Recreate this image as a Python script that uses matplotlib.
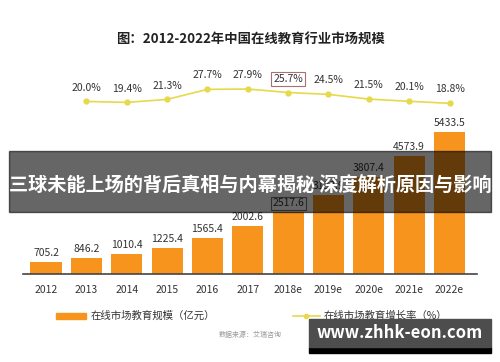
import matplotlib
matplotlib.use("Agg")
import matplotlib.pyplot as plt
from matplotlib.patches import Rectangle

plt.rcParams['font.family'] = ['Noto Sans CJK SC', 'DejaVu Sans']

# ---- data ----
years = ["2012", "2013", "2014", "2015", "2016", "2017",
         "2018e", "2019e", "2020e", "2021e", "2022e"]
market_size = [705.2, 846.2, 1010.4, 1225.4, 1565.4, 2002.6,
               2517.6, 3133.9, 3807.4, 4573.9, 5433.5]
size_labels = ["705.2", "846.2", "1010.4", "1225.4", "1565.4", "2002.6",
               "2517.6", "3133.9", "3807.4", "4573.9", "5433.5"]
growth = [20.0, 19.4, 21.3, 27.7, 27.9, 25.7, 24.5, 21.5, 20.1, 18.8]
growth_x = list(range(1, 11))

title = "图：2012-2022年中国在线教育行业市场规模"
bar_name = "在线市场教育规模（亿元）"
line_name = "在线市场教育增长率（%）"
source = "数据来源：艾瑞咨询"
banner = "三球未能上场的背后真相与内幕揭秘 深度解析原因与影响"
site = "www.zhhk-eon.com"

ORANGE = "#F7941D"
YELLOW = "#E6D94A"
TEXT = "#333333"

W, H = 500, 362
fig = plt.figure(figsize=(W / 100, H / 100), dpi=100)

# axes box in pixels: x 23..477, y 60..274 (from top)
ax = fig.add_axes([23 / W, 1 - 274 / H, 454 / W, 214 / H])
x = list(range(len(years)))
ax.bar(x, market_size, width=0.77, color=ORANGE, zorder=2)
ax.set_xlim(-0.57, 10.68)
ax.set_ylim(269, 8050)
for i, (v, s) in enumerate(zip(market_size, size_labels)):
    kw = {}
    if i == 6:
        kw["bbox"] = dict(boxstyle="square,pad=0.15", fc="none", ec="#777777", lw=0.8)
    ax.annotate(s, (i, v), xytext=(0, 6.5), textcoords="offset points",
                ha="center", va="center", fontsize=7.5, color=TEXT, **kw)
ax.set_xticks(x)
ax.set_xticklabels(years, fontsize=7.5, color=TEXT)
ax.tick_params(axis="x", length=0, pad=8)
ax.set_yticks([])
for side in ["top", "right", "left"]:
    ax.spines[side].set_visible(False)
ax.spines["bottom"].set_color("#444444")
ax.spines["bottom"].set_linewidth(1.2)

# growth rate line on twin axis
ax2 = ax.twinx()
ax2.plot(growth_x, growth, color=YELLOW, lw=1.2, marker="o", ms=3.5,
         markerfacecolor=YELLOW, markeredgecolor=YELLOW, zorder=3)
ax2.set_ylim(-89.9, 46.4)
ax2.set_yticks([])
for side in ax2.spines:
    ax2.spines[side].set_visible(False)
for i, (gx, g) in enumerate(zip(growth_x, growth)):
    kw = {}
    if i == 5:
        kw["bbox"] = dict(boxstyle="square,pad=0.2", fc="none", ec="#A87070", lw=0.8)
    ax2.annotate(f"{g:.1f}%", (gx, g), xytext=(0, 10), textcoords="offset points",
                 ha="center", va="center", fontsize=7.5, color=TEXT, **kw)

# title
fig.text(250 / W, 1 - 40 / H, title, ha="center", va="center",
         fontsize=9.6, fontweight="bold", color="#222222")

# legend drawn by hand
fig.patches.append(Rectangle((56 / W, 1 - 319 / H), 30 / W, 6 / H,
                             transform=fig.transFigure, color=ORANGE))
fig.text(91 / W, 1 - 316 / H, bar_name, ha="left", va="center",
         fontsize=7.5, color=TEXT)
fig.lines.append(plt.Line2D([293 / W, 320 / W], [1 - 316 / H, 1 - 316 / H],
                            transform=fig.transFigure, color=YELLOW, lw=1.2))
fig.lines.append(plt.Line2D([306 / W], [1 - 316 / H], transform=fig.transFigure,
                            color=YELLOW, marker="o", ms=3))
fig.text(324 / W, 1 - 316 / H, line_name, ha="left", va="center",
         fontsize=7.5, color=TEXT)
fig.text(250 / W, 1 - 335 / H, source, ha="center", va="center",
         fontsize=5, color="#999999")

# overlay banner
fig.patches.append(Rectangle((9 / W, 1 - 212 / H), 482 / W, 61 / H,
                             transform=fig.transFigure, color="black",
                             alpha=0.6, zorder=10))
fig.text(250 / W, 1 - 186 / H, banner, ha="center", va="center",
         fontsize=13.8, fontweight="bold", color="white", zorder=11)

# watermark box
fig.patches.append(Rectangle((309 / W, 1 - 353 / H), 182 / W, 6 / H,
                             transform=fig.transFigure, color="black", zorder=10))
fig.patches.append(Rectangle((309 / W, 1 - 347 / H), 182 / W, 28 / H,
                             transform=fig.transFigure, color="#4D4D4D", zorder=10))
fig.text(400 / W, 1 - 333 / H, site, ha="center", va="center",
         fontsize=12, fontweight="bold", color="white", zorder=11)

fig.savefig("out.png", dpi=100)
